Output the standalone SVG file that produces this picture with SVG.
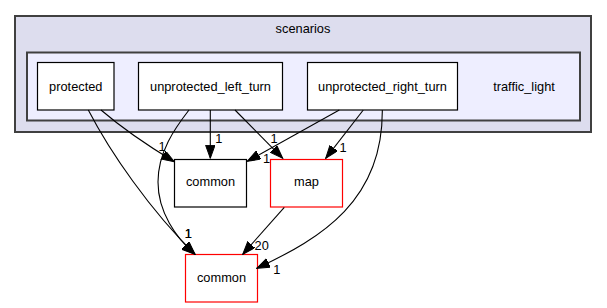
<svg xmlns="http://www.w3.org/2000/svg" width="607" height="308" viewBox="0 0 607 308">
  <style>
    text { font-family: "Liberation Sans", Arial, Helvetica, sans-serif; font-size: 12.8px; fill: #000; text-anchor: middle; }
    .cluster-outer { fill: #ddddee; stroke: #404040; stroke-width: 2; }
    .cluster-inner { fill: #eeeeff; stroke: #404040; stroke-width: 2; }
    .dir { fill: #ffffff; stroke: #000000; stroke-width: 1.2; }
    .dir-ext { fill: #ffffff; stroke: #ff0000; stroke-width: 1.2; }
    .edge { fill: none; stroke: #000000; stroke-width: 1.1; marker-end: url(#arrow); }
  </style>
  <defs>
    <marker id="arrow" markerUnits="userSpaceOnUse" markerWidth="14" markerHeight="10" refX="13" refY="4.7" orient="auto">
      <path d="M0,0 L13,4.7 L0,9.4 z" fill="#000000" stroke="#000000" stroke-width="1"/>
    </marker>
  </defs>

  <rect width="607" height="308" fill="#ffffff"/>

  <!-- clusters -->
  <g id="cluster_scenarios">
    <rect class="cluster-outer" x="15" y="16" width="576" height="116"/>
    <text x="303" y="32.8">scenarios</text>
  </g>
  <g id="cluster_traffic_light">
    <rect class="cluster-inner" x="27" y="52.5" width="553" height="68"/>
    <text x="524" y="90.5">traffic_light</text>
  </g>

  <!-- directory nodes -->
  <g id="node_protected">
    <rect class="dir" x="37.5" y="62.5" width="76.5" height="47.5"/>
    <text x="75.8" y="90.5">protected</text>
  </g>
  <g id="node_unprotected_left_turn">
    <rect class="dir" x="138.5" y="62.5" width="144" height="47.5"/>
    <text x="210.5" y="90.5">unprotected_left_turn</text>
  </g>
  <g id="node_unprotected_right_turn">
    <rect class="dir" x="307.5" y="62.5" width="150" height="47.5"/>
    <text x="382.5" y="90.5">unprotected_right_turn</text>
  </g>
  <g id="node_common_local">
    <rect class="dir" x="174.5" y="159.5" width="72" height="47.5"/>
    <text x="210.5" y="186.2">common</text>
  </g>
  <g id="node_map">
    <rect class="dir-ext" x="270.5" y="159.5" width="72" height="47.5"/>
    <text x="306.5" y="186.2">map</text>
  </g>
  <g id="node_common">
    <rect class="dir-ext" x="185.5" y="254.5" width="72" height="47.5"/>
    <text x="221.5" y="282.2">common</text>
  </g>

  <!-- dependency edges -->
  <g id="edges">
    <path class="edge" d="M101,110 C115,122 140,141 174.3,161.7"/>
    <path class="edge" d="M88.3,110 C110,152 150,210 195,254.3"/>
    <path class="edge" d="M189,110 C175,128 158,152 158,182 C158,212 176,238 195,254.3"/>
    <path class="edge" d="M210.3,110 L210.3,158.3"/>
    <path class="edge" d="M235,110 L282.7,158.3"/>
    <path class="edge" d="M339.3,110 L247.3,161.3"/>
    <path class="edge" d="M363.3,110 L325.7,158.3"/>
    <path class="edge" d="M382.3,110 C383,200 322,238 256.7,268.3"/>
    <path class="edge" d="M284.3,207.3 L242.7,254.3"/>

    <text x="162" y="151.2">1</text>
    <text x="218.7" y="142.8">1</text>
    <text x="274" y="142.5">1</text>
    <text x="266.5" y="162.5">1</text>
    <text x="343" y="152.2">1</text>
    <text x="188.3" y="237.8">1</text>
    <text x="188.3" y="237.8">1</text>
    <text x="261.7" y="250.2">20</text>
    <text x="276.7" y="273.5">1</text>
  </g>
</svg>
